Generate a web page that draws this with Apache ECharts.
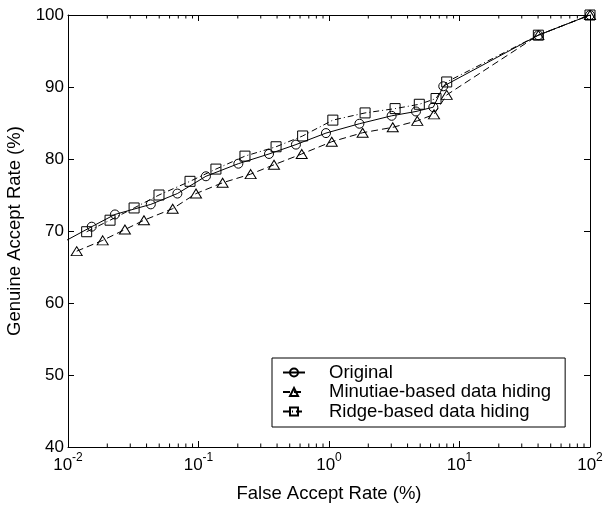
<!DOCTYPE html>
<html>
<head>
<meta charset="utf-8">
<script src="https://cdn.jsdelivr.net/npm/echarts@6/dist/echarts.min.js"></script>
<style>
  html, body { margin: 0; padding: 0; background: #fff; }
  #chart { width: 603px; height: 505px; }
</style>
</head>
<body>
<div id="chart"></div>
<script>
// False accept rate (%) / genuine accept rate (%)
const farOriginal = [0.0095, 0.0152, 0.0229, 0.0431, 0.0689, 0.114, 0.202, 0.347, 0.558, 0.948, 1.71, 3.02, 4.64, 6.30, 7.51, 40.2, 100];
const garOriginal = [68.6, 70.6, 72.3, 73.7, 75.2, 77.6, 79.35, 80.7, 82.0, 83.6, 84.9, 86.0, 86.6, 87.2, 90.1, 97.2, 100];

const farMinutiae = [0.01166, 0.01845, 0.0273, 0.0382, 0.0634, 0.0957, 0.153, 0.251, 0.379, 0.618, 1.05, 1.81, 3.08, 4.75, 6.38, 7.98, 40.2, 100];
const garMinutiae = [67.2, 68.7, 70.2, 71.5, 73.1, 75.2, 76.7, 77.9, 79.2, 80.7, 82.4, 83.65, 84.4, 85.3, 86.2, 88.9, 97.2, 100];

const farRidge = [0.0139, 0.0210, 0.0321, 0.0498, 0.0861, 0.136, 0.227, 0.393, 0.628, 1.07, 1.89, 3.21, 4.92, 6.61, 7.98, 40.2, 100];
const garRidge = [69.9, 71.5, 73.2, 75.0, 76.9, 78.6, 80.4, 81.7, 83.2, 85.4, 86.4, 87.0, 87.6, 88.4, 90.7, 97.2, 100];

const seriesNames = ['Original', 'Minutiae-based data hiding', 'Ridge-based data hiding'];

// minor ticks of the log axis: 2..9 in every decade
const minorTicks = [];
[0.01, 0.1, 1, 10].forEach(function (d) {
  for (let k = 2; k <= 9; k++) minorTicks.push(+(d * k).toPrecision(3));
});

const font = "'Liberation Sans', Arial, sans-serif";
const zip = (xs, ys) => xs.map((x, i) => [x, ys[i]]);

const hollow = { color: 'none', borderColor: '#000', borderWidth: 1, opacity: 1 };

function lineSeries(name, xs, ys, symbol, size, dash) {
  return {
    name: name,
    type: 'line',
    data: zip(xs, ys),
    symbol: symbol,
    symbolSize: size,
    showAllSymbol: true,
    clip: true,
    lineStyle: { color: '#000', width: 1, type: dash },
    itemStyle: hollow,
    emphasis: { disabled: true },
    animation: false
  };
}

const chart = echarts.init(document.getElementById('chart'));

const option = {
  animation: false,
  textStyle: { fontFamily: font },
  grid: { left: 68, right: 13, top: 15, bottom: 58, outerBoundsMode: 'none', containLabel: false },
  legend: {
    orient: 'vertical',
    left: 272,
    top: 358,
    data: seriesNames,
    selectedMode: false,
    itemWidth: 22,
    itemHeight: 10,
    itemGap: 0.5,
    padding: [5, 14, 6, 10],
    borderColor: '#000',
    borderWidth: 1,
    backgroundColor: '#fff',
    textStyle: { fontSize: 18.5, color: '#000', fontFamily: font, padding: [0, 0, 0, 19] }
  },
  xAxis: [
    {
      type: 'log',
      logBase: 10,
      min: 0.01,
      max: 100,
      position: 'bottom',
      name: 'False Accept Rate (%)',
      nameLocation: 'middle',
      nameGap: 37,
      nameTextStyle: { fontSize: 18.5, color: '#000', fontFamily: font },
      axisLine: { show: true, onZero: false, lineStyle: { color: '#000', width: 1 } },
      axisTick: { show: true, inside: true, length: 6, lineStyle: { color: '#000' } },
      axisLabel: {
        margin: 5,
        color: '#000',
        formatter: function (v) {
          return '{b|10}{s|' + Math.round(Math.log10(v)) + '}';
        },
        rich: {
          b: { fontSize: 17, color: '#000', fontFamily: font, verticalAlign: 'bottom', lineHeight: 22 },
          s: { fontSize: 12, color: '#000', fontFamily: font, verticalAlign: 'top', lineHeight: 12 }
        }
      },
      splitLine: { show: false }
    },
    {
      type: 'log',
      logBase: 10,
      min: 0.01,
      max: 100,
      position: 'top',
      axisLine: { show: true, onZero: false, lineStyle: { color: '#000', width: 1 } },
      axisTick: { show: true, inside: true, length: 6, lineStyle: { color: '#000' } },
      axisLabel: { show: false },
      splitLine: { show: false }
    }
  ],
  yAxis: [
    {
      type: 'value',
      min: 40,
      max: 100,
      interval: 10,
      position: 'left',
      name: 'Genuine Accept Rate (%)',
      nameLocation: 'middle',
      nameGap: 42,
      nameTextStyle: { fontSize: 18.5, color: '#000', fontFamily: font },
      axisLine: { show: true, onZero: false, lineStyle: { color: '#000', width: 1 } },
      axisTick: { show: true, inside: true, length: 6, lineStyle: { color: '#000' } },
      axisLabel: { margin: 4, fontSize: 17, color: '#000', fontFamily: font },
      splitLine: { show: false }
    },
    {
      type: 'value',
      min: 40,
      max: 100,
      interval: 10,
      position: 'right',
      axisLine: { show: true, onZero: false, lineStyle: { color: '#000', width: 1 } },
      axisTick: { show: true, inside: true, length: 6, lineStyle: { color: '#000' } },
      axisLabel: { show: false },
      splitLine: { show: false }
    }
  ],
  series: [
    lineSeries(seriesNames[0], farOriginal, garOriginal, 'circle', 9, 'solid'),
    lineSeries(seriesNames[1], farMinutiae, garMinutiae, 'triangle', [11, 9], [7, 4]),
    lineSeries(seriesNames[2], farRidge, garRidge, 'rect', 10, [6, 3, 1, 3]),
    {
      // minor ticks on bottom and top edges
      type: 'custom',
      silent: true,
      clip: false,
      data: minorTicks.map(v => [v, 40]),
      renderItem: function (params, api) {
        const v = api.value(0);
        const b = api.coord([v, 40]);
        const t = api.coord([v, 100]);
        const st = { stroke: '#000', lineWidth: 1 };
        return {
          type: 'group',
          children: [
            { type: 'line', shape: { x1: b[0], y1: b[1], x2: b[0], y2: b[1] - 3.5 }, style: st },
            { type: 'line', shape: { x1: t[0], y1: t[1], x2: t[0], y2: t[1] + 3.5 }, style: st }
          ]
        };
      },
      animation: false
    }
  ]
};

chart.setOption(option);
window.addEventListener('resize', () => chart.resize());
</script>
</body>
</html>
